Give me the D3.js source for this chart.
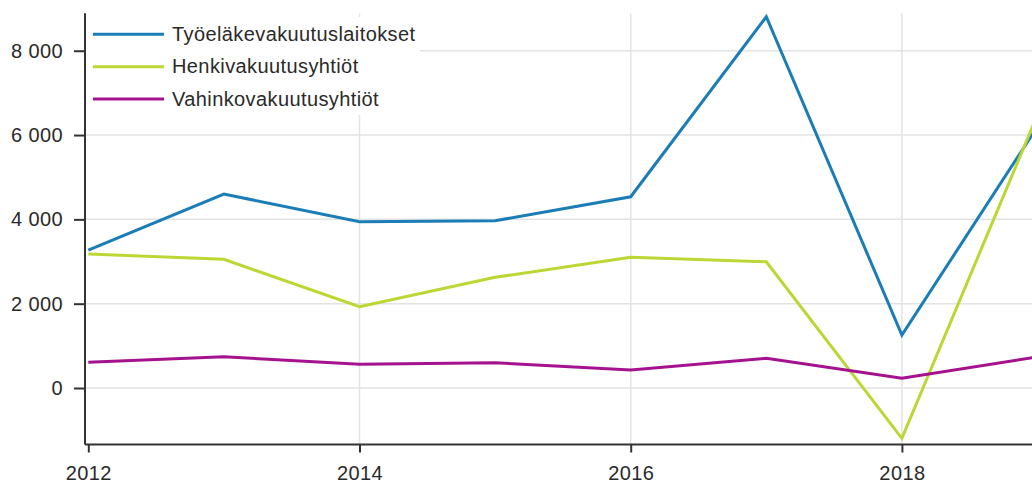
<!DOCTYPE html>
<html>
<head>
<meta charset="utf-8">
<script src="https://cdn.jsdelivr.net/npm/d3@7"></script>
<style>
  body { margin: 0; background: #fff; }
  svg { display: block; font-family: "Liberation Sans", Arial, sans-serif; }
</style>
</head>
<body>
<svg id="chart" width="1032" height="485"></svg>
<script>
const width = 1032;
const height = 485;
const svg = d3.select("#chart");

// data
const years = [2012, 2013, 2014, 2015, 2016, 2017, 2018, 2019];
const tyoelake = [3272, 4600, 3944, 3967, 4536, 8805, 1257, 6200];
const henki = [3178, 3052, 1928, 2625, 3099, 2995, -1193, 6480];
const vahinko = [609, 742, 562, 600, 427, 704, 230, 740];
const yTicks = [0, 2000, 4000, 6000, 8000];
const xTicks = [2012, 2014, 2016, 2018];

const series = [
    { name: "Työeläkevakuutuslaitokset", values: tyoelake, color: "#1a7db6" },
    { name: "Henkivakuutusyhtiöt", values: henki, color: "#bcd633" },
    { name: "Vahinkovakuutusyhtiöt", values: vahinko, color: "#a4128f" }
];

const axisX = 85;      // y axis line position
const axisY = 444.5;   // x axis line position

const x = d3.scaleLinear().domain([2012, 2019]).range([88.3, 1037.5]);
const y = d3.scaleLinear().domain([-1340, 8890]).range([axisY, 13.2]);

const fmtSpace = d => d3.format(",")(d).replace(/,/g, " ");

// grid
const grid = svg.append("g").attr("stroke", "#e3e3e3").attr("stroke-width", 1.5);
grid.selectAll(".hg").data(yTicks).join("line")
    .attr("x1", axisX).attr("x2", width)
    .attr("y1", d => y(d)).attr("y2", d => y(d));
grid.selectAll(".vg").data(xTicks.slice(1)).join("line")
    .attr("x1", d => x(d)).attr("x2", d => x(d))
    .attr("y1", y.range()[1]).attr("y2", axisY);

// legend background hides grid behind it
svg.append("rect").attr("x", 86).attr("y", 17).attr("width", 334).attr("height", 98).attr("fill", "#fff");

// lines
const line = d3.line().x((d, i) => x(years[i])).y(d => y(d));
svg.append("g").selectAll("path").data(series).join("path")
    .attr("d", d => line(d.values))
    .attr("fill", "none")
    .attr("stroke", d => d.color)
    .attr("stroke-width", 3);

// y axis
const yAxis = svg.append("g").attr("transform", `translate(${axisX},0)`)
    .call(d3.axisLeft(y).tickValues(yTicks).tickSize(11).tickPadding(11).tickFormat(fmtSpace));
// x axis
const xAxis = svg.append("g").attr("transform", `translate(0,${axisY})`)
    .call(d3.axisBottom(x).tickValues(xTicks).tickSize(8).tickPadding(13).tickFormat(d3.format("d")));

[yAxis, xAxis].forEach(a => {
    a.select(".domain").attr("stroke", "#333").attr("stroke-width", 2);
    a.selectAll(".tick line").attr("stroke", "#333").attr("stroke-width", 2);
    a.selectAll(".tick text").attr("fill", "#2a2a2a")
        .style("font-size", "20px").style("letter-spacing", "0.4px");
});
xAxis.select(".domain").attr("d", `M${axisX},0H${width}`);
yAxis.select(".domain").attr("d", `M0,${y.range()[1]}V${axisY}`);

// legend
const legend = svg.append("g").selectAll("g").data(series).join("g")
    .attr("transform", (d, i) => `translate(93,${34.3 + i * 32.4})`);
legend.append("line").attr("x1", 0).attr("x2", 71)
    .attr("stroke", d => d.color).attr("stroke-width", 3);
legend.append("text").attr("x", 79).attr("y", 6.5)
    .attr("fill", "#2a2a2a").style("font-size", "20px").style("letter-spacing", "0.4px")
    .text(d => d.name);
</script>
</body>
</html>
